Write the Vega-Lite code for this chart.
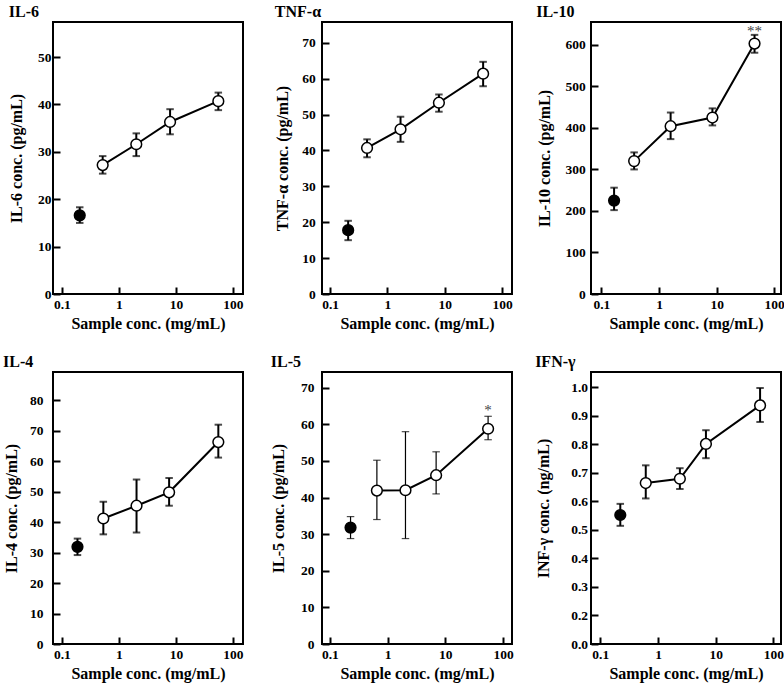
{
  "$schema": "https://vega.github.io/schema/vega-lite/v6.json",
  "background": "white",
  "padding": {"left": 2, "top": 3, "right": 2, "bottom": 2},
  "columns": 3,
  "bounds": "flush",
  "spacing": {"row": 78, "column": 79},
  "datasets": {
    "il6": [
      {"conc": 0.206, "mean": 16.6, "lo": 15.0, "hi": 18.3, "grp": "control", "sig": ""},
      {"conc": 0.52, "mean": 27.2, "lo": 25.4, "hi": 29.1, "grp": "treated", "sig": ""},
      {"conc": 2.02, "mean": 31.6, "lo": 29.1, "hi": 33.9, "grp": "treated", "sig": ""},
      {"conc": 7.9, "mean": 36.3, "lo": 33.7, "hi": 39.0, "grp": "treated", "sig": ""},
      {"conc": 55.4, "mean": 40.7, "lo": 38.8, "hi": 42.5, "grp": "treated", "sig": ""}
    ],
    "tnf": [
      {"conc": 0.206, "mean": 17.8, "lo": 15.0, "hi": 20.4, "grp": "control", "sig": ""},
      {"conc": 0.44, "mean": 40.7, "lo": 38.1, "hi": 43.1, "grp": "treated", "sig": ""},
      {"conc": 1.69, "mean": 45.9, "lo": 42.4, "hi": 49.4, "grp": "treated", "sig": ""},
      {"conc": 7.9, "mean": 53.3, "lo": 50.8, "hi": 55.6, "grp": "treated", "sig": ""},
      {"conc": 46.7, "mean": 61.4, "lo": 57.9, "hi": 64.7, "grp": "treated", "sig": ""}
    ],
    "il10": [
      {"conc": 0.166, "mean": 225, "lo": 202, "hi": 256, "grp": "control", "sig": ""},
      {"conc": 0.37, "mean": 320, "lo": 300, "hi": 341, "grp": "treated", "sig": ""},
      {"conc": 1.59, "mean": 404, "lo": 373, "hi": 437, "grp": "treated", "sig": ""},
      {"conc": 8.45, "mean": 425, "lo": 406, "hi": 447, "grp": "treated", "sig": ""},
      {"conc": 45.5, "mean": 603, "lo": 581, "hi": 624, "grp": "treated", "sig": "**"}
    ],
    "il4": [
      {"conc": 0.188, "mean": 31.9, "lo": 29.2, "hi": 34.6, "grp": "control", "sig": ""},
      {"conc": 0.534, "mean": 41.2, "lo": 36.0, "hi": 46.7, "grp": "treated", "sig": ""},
      {"conc": 2.04, "mean": 45.4, "lo": 36.6, "hi": 54.0, "grp": "treated", "sig": ""},
      {"conc": 7.6, "mean": 49.8, "lo": 45.4, "hi": 54.5, "grp": "treated", "sig": ""},
      {"conc": 55.4, "mean": 66.3, "lo": 61.2, "hi": 72.0, "grp": "treated", "sig": ""}
    ],
    "il5": [
      {"conc": 0.228, "mean": 31.8, "lo": 28.8, "hi": 34.8, "grp": "control", "sig": ""},
      {"conc": 0.652, "mean": 41.9, "lo": 34.0, "hi": 50.2, "grp": "treated", "sig": ""},
      {"conc": 2.04, "mean": 42.0, "lo": 28.8, "hi": 58.0, "grp": "treated", "sig": ""},
      {"conc": 6.93, "mean": 46.1, "lo": 41.0, "hi": 52.5, "grp": "treated", "sig": ""},
      {"conc": 55.1, "mean": 58.8, "lo": 55.8, "hi": 62.2, "grp": "treated", "sig": "*"}
    ],
    "ifn": [
      {"conc": 0.222, "mean": 0.552, "lo": 0.514, "hi": 0.591, "grp": "control", "sig": ""},
      {"conc": 0.613, "mean": 0.664, "lo": 0.61, "hi": 0.726, "grp": "treated", "sig": ""},
      {"conc": 2.39, "mean": 0.679, "lo": 0.643, "hi": 0.716, "grp": "treated", "sig": ""},
      {"conc": 6.76, "mean": 0.801, "lo": 0.751, "hi": 0.849, "grp": "treated", "sig": ""},
      {"conc": 58.6, "mean": 0.936, "lo": 0.878, "hi": 0.997, "grp": "treated", "sig": ""}
    ]
  },
  "concat": [
    {
      "title": {"text": "IL-6", "fontSize": 16, "font": "Liberation Serif", "fontWeight": "bold", "anchor": "start", "offset": 2, "color": "black"},
      "width": 190, "height": 272,
      "data": {"name": "il6"},
      "encoding": {
        "x": {"field": "conc", "type": "quantitative", "scale": {"type": "log", "domain": [0.07, 150], "nice": false},
          "axis": {"values": [0.1, 1, 10, 100], "format": "~g", "title": "Sample conc. (mg/mL)", "domain": false, "grid": false, "tickSize": -7, "tickWidth": 2, "tickColor": "black", "labelFont": "Liberation Serif", "labelFontSize": 13.5, "labelFontWeight": "bold", "labelColor": "black", "labelPadding": 10, "titleFont": "Liberation Serif", "titleFontSize": 16, "titleFontWeight": "bold", "titleColor": "black", "titlePadding": 5}}
      },
      "layer": [
        {"mark": {"type": "rule", "strokeWidth": 2, "color": "black"},
         "encoding": {"y": {"field": "lo", "type": "quantitative", "scale": {"domain": [0, 57.4], "nice": false},
           "axis": {"values": [0, 10, 20, 30, 40, 50], "title": "IL-6 conc. (pg/mL)", "domain": false, "grid": false, "tickSize": -7, "tickWidth": 2, "tickColor": "black", "labelFont": "Liberation Serif", "labelFontSize": 13.5, "labelFontWeight": "bold", "labelColor": "black", "labelPadding": 9, "titleFont": "Liberation Serif", "titleFontSize": 16, "titleFontWeight": "bold", "titleColor": "black", "titlePadding": 12.7}},
           "y2": {"field": "hi"}}},
        {"mark": {"type": "point", "shape": "stroke", "size": 56, "strokeWidth": 2, "color": "black"},
         "encoding": {"y": {"field": "lo", "type": "quantitative", "scale": {"domain": [0, 57.4], "nice": false},
           "axis": {"values": [0, 10, 20, 30, 40, 50], "title": "IL-6 conc. (pg/mL)", "domain": false, "grid": false, "tickSize": -7, "tickWidth": 2, "tickColor": "black", "labelFont": "Liberation Serif", "labelFontSize": 13.5, "labelFontWeight": "bold", "labelColor": "black", "labelPadding": 9, "titleFont": "Liberation Serif", "titleFontSize": 16, "titleFontWeight": "bold", "titleColor": "black", "titlePadding": 12.7}}}},
        {"mark": {"type": "point", "shape": "stroke", "size": 56, "strokeWidth": 2, "color": "black"},
         "encoding": {"y": {"field": "hi", "type": "quantitative", "scale": {"domain": [0, 57.4], "nice": false},
           "axis": {"values": [0, 10, 20, 30, 40, 50], "title": "IL-6 conc. (pg/mL)", "domain": false, "grid": false, "tickSize": -7, "tickWidth": 2, "tickColor": "black", "labelFont": "Liberation Serif", "labelFontSize": 13.5, "labelFontWeight": "bold", "labelColor": "black", "labelPadding": 9, "titleFont": "Liberation Serif", "titleFontSize": 16, "titleFontWeight": "bold", "titleColor": "black", "titlePadding": 12.7}}}},
        {"transform": [{"filter": "datum.grp == 'treated'"}],
         "mark": {"type": "line", "strokeWidth": 2, "color": "black"},
         "encoding": {"y": {"field": "mean", "type": "quantitative", "scale": {"domain": [0, 57.4], "nice": false},
           "axis": {"values": [0, 10, 20, 30, 40, 50], "title": "IL-6 conc. (pg/mL)", "domain": false, "grid": false, "tickSize": -7, "tickWidth": 2, "tickColor": "black", "labelFont": "Liberation Serif", "labelFontSize": 13.5, "labelFontWeight": "bold", "labelColor": "black", "labelPadding": 9, "titleFont": "Liberation Serif", "titleFontSize": 16, "titleFontWeight": "bold", "titleColor": "black", "titlePadding": 12.7}}}},
        {"mark": {"type": "point", "shape": "circle", "size": 115, "filled": true, "stroke": "black", "strokeWidth": 1.5, "opacity": 1},
         "encoding": {"y": {"field": "mean", "type": "quantitative", "scale": {"domain": [0, 57.4], "nice": false},
           "axis": {"values": [0, 10, 20, 30, 40, 50], "title": "IL-6 conc. (pg/mL)", "domain": false, "grid": false, "tickSize": -7, "tickWidth": 2, "tickColor": "black", "labelFont": "Liberation Serif", "labelFontSize": 13.5, "labelFontWeight": "bold", "labelColor": "black", "labelPadding": 9, "titleFont": "Liberation Serif", "titleFontSize": 16, "titleFontWeight": "bold", "titleColor": "black", "titlePadding": 12.7}},
           "fill": {"field": "grp", "type": "nominal", "scale": {"domain": ["control", "treated"], "range": ["black", "white"]}, "legend": null}}}
      ]
    },
    {
      "title": {"text": "TNF-α", "fontSize": 16, "font": "Liberation Serif", "fontWeight": "bold", "anchor": "start", "offset": 2, "color": "black"},
      "width": 190, "height": 272,
      "data": {"name": "tnf"},
      "encoding": {
        "x": {"field": "conc", "type": "quantitative", "scale": {"type": "log", "domain": [0.072, 149], "nice": false},
          "axis": {"values": [0.1, 1, 10, 100], "format": "~g", "title": "Sample conc. (mg/mL)", "domain": false, "grid": false, "tickSize": -7, "tickWidth": 2, "tickColor": "black", "labelFont": "Liberation Serif", "labelFontSize": 13.5, "labelFontWeight": "bold", "labelColor": "black", "labelPadding": 10, "titleFont": "Liberation Serif", "titleFontSize": 16, "titleFontWeight": "bold", "titleColor": "black", "titlePadding": 5}}
      },
      "layer": [
        {"mark": {"type": "rule", "strokeWidth": 2, "color": "black"},
         "encoding": {"y": {"field": "lo", "type": "quantitative", "scale": {"domain": [0, 75.8], "nice": false},
           "axis": {"values": [0, 10, 20, 30, 40, 50, 60, 70], "title": "TNF-α conc. (pg/mL)", "domain": false, "grid": false, "tickSize": -7, "tickWidth": 2, "tickColor": "black", "labelFont": "Liberation Serif", "labelFontSize": 13.5, "labelFontWeight": "bold", "labelColor": "black", "labelPadding": 13.7, "titleFont": "Liberation Serif", "titleFontSize": 16, "titleFontWeight": "bold", "titleColor": "black", "titlePadding": 11}},
           "y2": {"field": "hi"}}},
        {"mark": {"type": "point", "shape": "stroke", "size": 56, "strokeWidth": 2, "color": "black"},
         "encoding": {"y": {"field": "lo", "type": "quantitative", "scale": {"domain": [0, 75.8], "nice": false},
           "axis": {"values": [0, 10, 20, 30, 40, 50, 60, 70], "title": "TNF-α conc. (pg/mL)", "domain": false, "grid": false, "tickSize": -7, "tickWidth": 2, "tickColor": "black", "labelFont": "Liberation Serif", "labelFontSize": 13.5, "labelFontWeight": "bold", "labelColor": "black", "labelPadding": 13.7, "titleFont": "Liberation Serif", "titleFontSize": 16, "titleFontWeight": "bold", "titleColor": "black", "titlePadding": 11}}}},
        {"mark": {"type": "point", "shape": "stroke", "size": 56, "strokeWidth": 2, "color": "black"},
         "encoding": {"y": {"field": "hi", "type": "quantitative", "scale": {"domain": [0, 75.8], "nice": false},
           "axis": {"values": [0, 10, 20, 30, 40, 50, 60, 70], "title": "TNF-α conc. (pg/mL)", "domain": false, "grid": false, "tickSize": -7, "tickWidth": 2, "tickColor": "black", "labelFont": "Liberation Serif", "labelFontSize": 13.5, "labelFontWeight": "bold", "labelColor": "black", "labelPadding": 13.7, "titleFont": "Liberation Serif", "titleFontSize": 16, "titleFontWeight": "bold", "titleColor": "black", "titlePadding": 11}}}},
        {"transform": [{"filter": "datum.grp == 'treated'"}],
         "mark": {"type": "line", "strokeWidth": 2, "color": "black"},
         "encoding": {"y": {"field": "mean", "type": "quantitative", "scale": {"domain": [0, 75.8], "nice": false},
           "axis": {"values": [0, 10, 20, 30, 40, 50, 60, 70], "title": "TNF-α conc. (pg/mL)", "domain": false, "grid": false, "tickSize": -7, "tickWidth": 2, "tickColor": "black", "labelFont": "Liberation Serif", "labelFontSize": 13.5, "labelFontWeight": "bold", "labelColor": "black", "labelPadding": 13.7, "titleFont": "Liberation Serif", "titleFontSize": 16, "titleFontWeight": "bold", "titleColor": "black", "titlePadding": 11}}}},
        {"mark": {"type": "point", "shape": "circle", "size": 115, "filled": true, "stroke": "black", "strokeWidth": 1.5, "opacity": 1},
         "encoding": {"y": {"field": "mean", "type": "quantitative", "scale": {"domain": [0, 75.8], "nice": false},
           "axis": {"values": [0, 10, 20, 30, 40, 50, 60, 70], "title": "TNF-α conc. (pg/mL)", "domain": false, "grid": false, "tickSize": -7, "tickWidth": 2, "tickColor": "black", "labelFont": "Liberation Serif", "labelFontSize": 13.5, "labelFontWeight": "bold", "labelColor": "black", "labelPadding": 13.7, "titleFont": "Liberation Serif", "titleFontSize": 16, "titleFontWeight": "bold", "titleColor": "black", "titlePadding": 11}},
           "fill": {"field": "grp", "type": "nominal", "scale": {"domain": ["control", "treated"], "range": ["black", "white"]}, "legend": null}}}
      ]
    },
    {
      "title": {"text": "IL-10", "fontSize": 16, "font": "Liberation Serif", "fontWeight": "bold", "anchor": "start", "offset": 2, "color": "black"},
      "width": 190, "height": 272,
      "data": {"name": "il10"},
      "encoding": {
        "x": {"field": "conc", "type": "quantitative", "scale": {"type": "log", "domain": [0.066, 131], "nice": false},
          "axis": {"values": [0.1, 1, 10, 100], "format": "~g", "title": "Sample conc. (mg/mL)", "domain": false, "grid": false, "tickSize": -7, "tickWidth": 2, "tickColor": "black", "labelFont": "Liberation Serif", "labelFontSize": 13.5, "labelFontWeight": "bold", "labelColor": "black", "labelPadding": 10, "titleFont": "Liberation Serif", "titleFontSize": 16, "titleFontWeight": "bold", "titleColor": "black", "titlePadding": 5}}
      },
      "layer": [
        {"mark": {"type": "rule", "strokeWidth": 2, "color": "black"},
         "encoding": {"y": {"field": "lo", "type": "quantitative", "scale": {"domain": [0, 655], "nice": false},
           "axis": {"values": [0, 100, 200, 300, 400, 500, 600], "title": "IL-10 conc. (pg/mL)", "domain": false, "grid": false, "tickSize": -7, "tickWidth": 2, "tickColor": "black", "labelFont": "Liberation Serif", "labelFontSize": 13.5, "labelFontWeight": "bold", "labelColor": "black", "labelPadding": 12.7, "titleFont": "Liberation Serif", "titleFontSize": 16, "titleFontWeight": "bold", "titleColor": "black", "titlePadding": 12.9}},
           "y2": {"field": "hi"}}},
        {"mark": {"type": "point", "shape": "stroke", "size": 56, "strokeWidth": 2, "color": "black"},
         "encoding": {"y": {"field": "lo", "type": "quantitative", "scale": {"domain": [0, 655], "nice": false},
           "axis": {"values": [0, 100, 200, 300, 400, 500, 600], "title": "IL-10 conc. (pg/mL)", "domain": false, "grid": false, "tickSize": -7, "tickWidth": 2, "tickColor": "black", "labelFont": "Liberation Serif", "labelFontSize": 13.5, "labelFontWeight": "bold", "labelColor": "black", "labelPadding": 12.7, "titleFont": "Liberation Serif", "titleFontSize": 16, "titleFontWeight": "bold", "titleColor": "black", "titlePadding": 12.9}}}},
        {"mark": {"type": "point", "shape": "stroke", "size": 56, "strokeWidth": 2, "color": "black"},
         "encoding": {"y": {"field": "hi", "type": "quantitative", "scale": {"domain": [0, 655], "nice": false},
           "axis": {"values": [0, 100, 200, 300, 400, 500, 600], "title": "IL-10 conc. (pg/mL)", "domain": false, "grid": false, "tickSize": -7, "tickWidth": 2, "tickColor": "black", "labelFont": "Liberation Serif", "labelFontSize": 13.5, "labelFontWeight": "bold", "labelColor": "black", "labelPadding": 12.7, "titleFont": "Liberation Serif", "titleFontSize": 16, "titleFontWeight": "bold", "titleColor": "black", "titlePadding": 12.9}}}},
        {"transform": [{"filter": "datum.grp == 'treated'"}],
         "mark": {"type": "line", "strokeWidth": 2, "color": "black"},
         "encoding": {"y": {"field": "mean", "type": "quantitative", "scale": {"domain": [0, 655], "nice": false},
           "axis": {"values": [0, 100, 200, 300, 400, 500, 600], "title": "IL-10 conc. (pg/mL)", "domain": false, "grid": false, "tickSize": -7, "tickWidth": 2, "tickColor": "black", "labelFont": "Liberation Serif", "labelFontSize": 13.5, "labelFontWeight": "bold", "labelColor": "black", "labelPadding": 12.7, "titleFont": "Liberation Serif", "titleFontSize": 16, "titleFontWeight": "bold", "titleColor": "black", "titlePadding": 12.9}}}},
        {"mark": {"type": "point", "shape": "circle", "size": 115, "filled": true, "stroke": "black", "strokeWidth": 1.5, "opacity": 1},
         "encoding": {"y": {"field": "mean", "type": "quantitative", "scale": {"domain": [0, 655], "nice": false},
           "axis": {"values": [0, 100, 200, 300, 400, 500, 600], "title": "IL-10 conc. (pg/mL)", "domain": false, "grid": false, "tickSize": -7, "tickWidth": 2, "tickColor": "black", "labelFont": "Liberation Serif", "labelFontSize": 13.5, "labelFontWeight": "bold", "labelColor": "black", "labelPadding": 12.7, "titleFont": "Liberation Serif", "titleFontSize": 16, "titleFontWeight": "bold", "titleColor": "black", "titlePadding": 12.9}},
           "fill": {"field": "grp", "type": "nominal", "scale": {"domain": ["control", "treated"], "range": ["black", "white"]}, "legend": null}}},
        {"mark": {"type": "text", "fontSize": 15, "font": "Liberation Serif", "color": "#444", "baseline": "alphabetic", "dy": 1},
         "encoding": {"y": {"field": "hi", "type": "quantitative", "scale": {"domain": [0, 655], "nice": false},
           "axis": {"values": [0, 100, 200, 300, 400, 500, 600], "title": "IL-10 conc. (pg/mL)", "domain": false, "grid": false, "tickSize": -7, "tickWidth": 2, "tickColor": "black", "labelFont": "Liberation Serif", "labelFontSize": 13.5, "labelFontWeight": "bold", "labelColor": "black", "labelPadding": 12.7, "titleFont": "Liberation Serif", "titleFontSize": 16, "titleFontWeight": "bold", "titleColor": "black", "titlePadding": 12.9}},
           "text": {"field": "sig"}}}
      ]
    },
    {
      "title": {"text": "IL-4", "fontSize": 16, "font": "Liberation Serif", "fontWeight": "bold", "anchor": "start", "offset": 2, "color": "black"},
      "width": 190, "height": 272,
      "data": {"name": "il4"},
      "encoding": {
        "x": {"field": "conc", "type": "quantitative", "scale": {"type": "log", "domain": [0.07, 150], "nice": false},
          "axis": {"values": [0.1, 1, 10, 100], "format": "~g", "title": "Sample conc. (mg/mL)", "domain": false, "grid": false, "tickSize": -7, "tickWidth": 2, "tickColor": "black", "labelFont": "Liberation Serif", "labelFontSize": 13.5, "labelFontWeight": "bold", "labelColor": "black", "labelPadding": 10, "titleFont": "Liberation Serif", "titleFontSize": 16, "titleFontWeight": "bold", "titleColor": "black", "titlePadding": 5}}
      },
      "layer": [
        {"mark": {"type": "rule", "strokeWidth": 2, "color": "black"},
         "encoding": {"y": {"field": "lo", "type": "quantitative", "scale": {"domain": [0, 89.3], "nice": false},
           "axis": {"values": [0, 10, 20, 30, 40, 50, 60, 70, 80], "title": "IL-4 conc. (pg/mL)", "domain": false, "grid": false, "tickSize": -7, "tickWidth": 2, "tickColor": "black", "labelFont": "Liberation Serif", "labelFontSize": 13.5, "labelFontWeight": "bold", "labelColor": "black", "labelPadding": 17, "titleFont": "Liberation Serif", "titleFontSize": 16, "titleFontWeight": "bold", "titleColor": "black", "titlePadding": 10.4}},
           "y2": {"field": "hi"}}},
        {"mark": {"type": "point", "shape": "stroke", "size": 56, "strokeWidth": 2, "color": "black"},
         "encoding": {"y": {"field": "lo", "type": "quantitative", "scale": {"domain": [0, 89.3], "nice": false},
           "axis": {"values": [0, 10, 20, 30, 40, 50, 60, 70, 80], "title": "IL-4 conc. (pg/mL)", "domain": false, "grid": false, "tickSize": -7, "tickWidth": 2, "tickColor": "black", "labelFont": "Liberation Serif", "labelFontSize": 13.5, "labelFontWeight": "bold", "labelColor": "black", "labelPadding": 17, "titleFont": "Liberation Serif", "titleFontSize": 16, "titleFontWeight": "bold", "titleColor": "black", "titlePadding": 10.4}}}},
        {"mark": {"type": "point", "shape": "stroke", "size": 56, "strokeWidth": 2, "color": "black"},
         "encoding": {"y": {"field": "hi", "type": "quantitative", "scale": {"domain": [0, 89.3], "nice": false},
           "axis": {"values": [0, 10, 20, 30, 40, 50, 60, 70, 80], "title": "IL-4 conc. (pg/mL)", "domain": false, "grid": false, "tickSize": -7, "tickWidth": 2, "tickColor": "black", "labelFont": "Liberation Serif", "labelFontSize": 13.5, "labelFontWeight": "bold", "labelColor": "black", "labelPadding": 17, "titleFont": "Liberation Serif", "titleFontSize": 16, "titleFontWeight": "bold", "titleColor": "black", "titlePadding": 10.4}}}},
        {"transform": [{"filter": "datum.grp == 'treated'"}],
         "mark": {"type": "line", "strokeWidth": 2, "color": "black"},
         "encoding": {"y": {"field": "mean", "type": "quantitative", "scale": {"domain": [0, 89.3], "nice": false},
           "axis": {"values": [0, 10, 20, 30, 40, 50, 60, 70, 80], "title": "IL-4 conc. (pg/mL)", "domain": false, "grid": false, "tickSize": -7, "tickWidth": 2, "tickColor": "black", "labelFont": "Liberation Serif", "labelFontSize": 13.5, "labelFontWeight": "bold", "labelColor": "black", "labelPadding": 17, "titleFont": "Liberation Serif", "titleFontSize": 16, "titleFontWeight": "bold", "titleColor": "black", "titlePadding": 10.4}}}},
        {"mark": {"type": "point", "shape": "circle", "size": 115, "filled": true, "stroke": "black", "strokeWidth": 1.5, "opacity": 1},
         "encoding": {"y": {"field": "mean", "type": "quantitative", "scale": {"domain": [0, 89.3], "nice": false},
           "axis": {"values": [0, 10, 20, 30, 40, 50, 60, 70, 80], "title": "IL-4 conc. (pg/mL)", "domain": false, "grid": false, "tickSize": -7, "tickWidth": 2, "tickColor": "black", "labelFont": "Liberation Serif", "labelFontSize": 13.5, "labelFontWeight": "bold", "labelColor": "black", "labelPadding": 17, "titleFont": "Liberation Serif", "titleFontSize": 16, "titleFontWeight": "bold", "titleColor": "black", "titlePadding": 10.4}},
           "fill": {"field": "grp", "type": "nominal", "scale": {"domain": ["control", "treated"], "range": ["black", "white"]}, "legend": null}}}
      ]
    },
    {
      "title": {"text": "IL-5", "fontSize": 16, "font": "Liberation Serif", "fontWeight": "bold", "anchor": "start", "offset": 2, "color": "black"},
      "width": 190, "height": 272,
      "data": {"name": "il5"},
      "encoding": {
        "x": {"field": "conc", "type": "quantitative", "scale": {"type": "log", "domain": [0.073, 143], "nice": false},
          "axis": {"values": [0.1, 1, 10, 100], "format": "~g", "title": "Sample conc. (mg/mL)", "domain": false, "grid": false, "tickSize": -7, "tickWidth": 2, "tickColor": "black", "labelFont": "Liberation Serif", "labelFontSize": 13.5, "labelFontWeight": "bold", "labelColor": "black", "labelPadding": 10, "titleFont": "Liberation Serif", "titleFontSize": 16, "titleFontWeight": "bold", "titleColor": "black", "titlePadding": 5}}
      },
      "layer": [
        {"mark": {"type": "rule", "strokeWidth": 1.2, "color": "black"},
         "encoding": {"y": {"field": "lo", "type": "quantitative", "scale": {"domain": [0, 74.3], "nice": false},
           "axis": {"values": [0, 10, 20, 30, 40, 50, 60, 70], "title": "IL-5 conc. (pg/mL)", "domain": false, "grid": false, "tickSize": -7, "tickWidth": 2, "tickColor": "black", "labelFont": "Liberation Serif", "labelFontSize": 13.5, "labelFontWeight": "bold", "labelColor": "black", "labelPadding": 15, "titleFont": "Liberation Serif", "titleFontSize": 16, "titleFontWeight": "bold", "titleColor": "black", "titlePadding": 13.7}},
           "y2": {"field": "hi"}}},
        {"mark": {"type": "point", "shape": "stroke", "size": 56, "strokeWidth": 1.2, "color": "black"},
         "encoding": {"y": {"field": "lo", "type": "quantitative", "scale": {"domain": [0, 74.3], "nice": false},
           "axis": {"values": [0, 10, 20, 30, 40, 50, 60, 70], "title": "IL-5 conc. (pg/mL)", "domain": false, "grid": false, "tickSize": -7, "tickWidth": 2, "tickColor": "black", "labelFont": "Liberation Serif", "labelFontSize": 13.5, "labelFontWeight": "bold", "labelColor": "black", "labelPadding": 15, "titleFont": "Liberation Serif", "titleFontSize": 16, "titleFontWeight": "bold", "titleColor": "black", "titlePadding": 13.7}}}},
        {"mark": {"type": "point", "shape": "stroke", "size": 56, "strokeWidth": 1.2, "color": "black"},
         "encoding": {"y": {"field": "hi", "type": "quantitative", "scale": {"domain": [0, 74.3], "nice": false},
           "axis": {"values": [0, 10, 20, 30, 40, 50, 60, 70], "title": "IL-5 conc. (pg/mL)", "domain": false, "grid": false, "tickSize": -7, "tickWidth": 2, "tickColor": "black", "labelFont": "Liberation Serif", "labelFontSize": 13.5, "labelFontWeight": "bold", "labelColor": "black", "labelPadding": 15, "titleFont": "Liberation Serif", "titleFontSize": 16, "titleFontWeight": "bold", "titleColor": "black", "titlePadding": 13.7}}}},
        {"transform": [{"filter": "datum.grp == 'treated'"}],
         "mark": {"type": "line", "strokeWidth": 2, "color": "black"},
         "encoding": {"y": {"field": "mean", "type": "quantitative", "scale": {"domain": [0, 74.3], "nice": false},
           "axis": {"values": [0, 10, 20, 30, 40, 50, 60, 70], "title": "IL-5 conc. (pg/mL)", "domain": false, "grid": false, "tickSize": -7, "tickWidth": 2, "tickColor": "black", "labelFont": "Liberation Serif", "labelFontSize": 13.5, "labelFontWeight": "bold", "labelColor": "black", "labelPadding": 15, "titleFont": "Liberation Serif", "titleFontSize": 16, "titleFontWeight": "bold", "titleColor": "black", "titlePadding": 13.7}}}},
        {"mark": {"type": "point", "shape": "circle", "size": 115, "filled": true, "stroke": "black", "strokeWidth": 1.5, "opacity": 1},
         "encoding": {"y": {"field": "mean", "type": "quantitative", "scale": {"domain": [0, 74.3], "nice": false},
           "axis": {"values": [0, 10, 20, 30, 40, 50, 60, 70], "title": "IL-5 conc. (pg/mL)", "domain": false, "grid": false, "tickSize": -7, "tickWidth": 2, "tickColor": "black", "labelFont": "Liberation Serif", "labelFontSize": 13.5, "labelFontWeight": "bold", "labelColor": "black", "labelPadding": 15, "titleFont": "Liberation Serif", "titleFontSize": 16, "titleFontWeight": "bold", "titleColor": "black", "titlePadding": 13.7}},
           "fill": {"field": "grp", "type": "nominal", "scale": {"domain": ["control", "treated"], "range": ["black", "white"]}, "legend": null}}},
        {"mark": {"type": "text", "fontSize": 15, "font": "Liberation Serif", "color": "#444", "baseline": "alphabetic", "dy": -1},
         "encoding": {"y": {"field": "hi", "type": "quantitative", "scale": {"domain": [0, 74.3], "nice": false},
           "axis": {"values": [0, 10, 20, 30, 40, 50, 60, 70], "title": "IL-5 conc. (pg/mL)", "domain": false, "grid": false, "tickSize": -7, "tickWidth": 2, "tickColor": "black", "labelFont": "Liberation Serif", "labelFontSize": 13.5, "labelFontWeight": "bold", "labelColor": "black", "labelPadding": 15, "titleFont": "Liberation Serif", "titleFontSize": 16, "titleFontWeight": "bold", "titleColor": "black", "titlePadding": 13.7}},
           "text": {"field": "sig"}}}
      ]
    },
    {
      "title": {"text": "IFN-γ", "fontSize": 16, "font": "Liberation Serif", "fontWeight": "bold", "anchor": "start", "offset": 2, "color": "black"},
      "width": 190, "height": 272,
      "data": {"name": "ifn"},
      "encoding": {
        "x": {"field": "conc", "type": "quantitative", "scale": {"type": "log", "domain": [0.069, 135], "nice": false},
          "axis": {"values": [0.1, 1, 10, 100], "format": "~g", "title": "Sample conc. (mg/mL)", "domain": false, "grid": false, "tickSize": -7, "tickWidth": 2, "tickColor": "black", "labelFont": "Liberation Serif", "labelFontSize": 13.5, "labelFontWeight": "bold", "labelColor": "black", "labelPadding": 10, "titleFont": "Liberation Serif", "titleFontSize": 16, "titleFontWeight": "bold", "titleColor": "black", "titlePadding": 5}}
      },
      "layer": [
        {"mark": {"type": "rule", "strokeWidth": 2, "color": "black"},
         "encoding": {"y": {"field": "lo", "type": "quantitative", "scale": {"domain": [0.1, 1.053], "nice": false, "zero": false},
           "axis": {"values": [0.1, 0.2, 0.3, 0.4, 0.5, 0.6, 0.7, 0.8, 0.9, 1.0], "labelExpr": "datum.value < 0.15 ? '0.0' : format(datum.value, '.1f')", "title": "INF-γ conc. (ng/mL)", "domain": false, "grid": false, "tickSize": -7, "tickWidth": 2, "tickColor": "black", "labelFont": "Liberation Serif", "labelFontSize": 13.5, "labelFontWeight": "bold", "labelColor": "black", "labelPadding": 10.4, "titleFont": "Liberation Serif", "titleFontSize": 16, "titleFontWeight": "bold", "titleColor": "black", "titlePadding": 19.6}},
           "y2": {"field": "hi"}}},
        {"mark": {"type": "point", "shape": "stroke", "size": 56, "strokeWidth": 2, "color": "black"},
         "encoding": {"y": {"field": "lo", "type": "quantitative", "scale": {"domain": [0.1, 1.053], "nice": false, "zero": false},
           "axis": {"values": [0.1, 0.2, 0.3, 0.4, 0.5, 0.6, 0.7, 0.8, 0.9, 1.0], "labelExpr": "datum.value < 0.15 ? '0.0' : format(datum.value, '.1f')", "title": "INF-γ conc. (ng/mL)", "domain": false, "grid": false, "tickSize": -7, "tickWidth": 2, "tickColor": "black", "labelFont": "Liberation Serif", "labelFontSize": 13.5, "labelFontWeight": "bold", "labelColor": "black", "labelPadding": 10.4, "titleFont": "Liberation Serif", "titleFontSize": 16, "titleFontWeight": "bold", "titleColor": "black", "titlePadding": 19.6}}}},
        {"mark": {"type": "point", "shape": "stroke", "size": 56, "strokeWidth": 2, "color": "black"},
         "encoding": {"y": {"field": "hi", "type": "quantitative", "scale": {"domain": [0.1, 1.053], "nice": false, "zero": false},
           "axis": {"values": [0.1, 0.2, 0.3, 0.4, 0.5, 0.6, 0.7, 0.8, 0.9, 1.0], "labelExpr": "datum.value < 0.15 ? '0.0' : format(datum.value, '.1f')", "title": "INF-γ conc. (ng/mL)", "domain": false, "grid": false, "tickSize": -7, "tickWidth": 2, "tickColor": "black", "labelFont": "Liberation Serif", "labelFontSize": 13.5, "labelFontWeight": "bold", "labelColor": "black", "labelPadding": 10.4, "titleFont": "Liberation Serif", "titleFontSize": 16, "titleFontWeight": "bold", "titleColor": "black", "titlePadding": 19.6}}}},
        {"transform": [{"filter": "datum.grp == 'treated'"}],
         "mark": {"type": "line", "strokeWidth": 2, "color": "black"},
         "encoding": {"y": {"field": "mean", "type": "quantitative", "scale": {"domain": [0.1, 1.053], "nice": false, "zero": false},
           "axis": {"values": [0.1, 0.2, 0.3, 0.4, 0.5, 0.6, 0.7, 0.8, 0.9, 1.0], "labelExpr": "datum.value < 0.15 ? '0.0' : format(datum.value, '.1f')", "title": "INF-γ conc. (ng/mL)", "domain": false, "grid": false, "tickSize": -7, "tickWidth": 2, "tickColor": "black", "labelFont": "Liberation Serif", "labelFontSize": 13.5, "labelFontWeight": "bold", "labelColor": "black", "labelPadding": 10.4, "titleFont": "Liberation Serif", "titleFontSize": 16, "titleFontWeight": "bold", "titleColor": "black", "titlePadding": 19.6}}}},
        {"mark": {"type": "point", "shape": "circle", "size": 115, "filled": true, "stroke": "black", "strokeWidth": 1.5, "opacity": 1},
         "encoding": {"y": {"field": "mean", "type": "quantitative", "scale": {"domain": [0.1, 1.053], "nice": false, "zero": false},
           "axis": {"values": [0.1, 0.2, 0.3, 0.4, 0.5, 0.6, 0.7, 0.8, 0.9, 1.0], "labelExpr": "datum.value < 0.15 ? '0.0' : format(datum.value, '.1f')", "title": "INF-γ conc. (ng/mL)", "domain": false, "grid": false, "tickSize": -7, "tickWidth": 2, "tickColor": "black", "labelFont": "Liberation Serif", "labelFontSize": 13.5, "labelFontWeight": "bold", "labelColor": "black", "labelPadding": 10.4, "titleFont": "Liberation Serif", "titleFontSize": 16, "titleFontWeight": "bold", "titleColor": "black", "titlePadding": 19.6}},
           "fill": {"field": "grp", "type": "nominal", "scale": {"domain": ["control", "treated"], "range": ["black", "white"]}, "legend": null}}}
      ]
    }
  ],
  "resolve": {"scale": {"fill": "independent"}},
  "config": {
    "font": "Liberation Serif",
    "view": {"stroke": "black", "strokeWidth": 2}
  }
}
